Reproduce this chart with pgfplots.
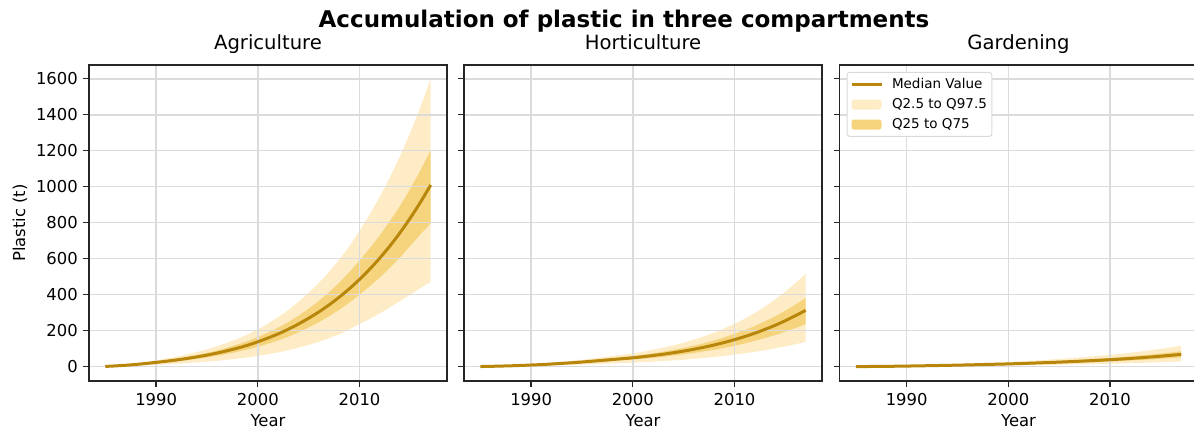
\documentclass[border=0pt]{standalone}
\usepackage{fontspec}
\setmainfont{DejaVu Sans}
\usepackage{pgfplots}
\usepackage{pgfplotstable}
\pgfplotsset{compat=1.18}
\usepgfplotslibrary{fillbetween}

\definecolor{medc}{RGB}{184,134,11}
\definecolor{outerc}{RGB}{254,236,198}
\definecolor{innerc}{RGB}{246,212,126}

% year med lo95 hi95 lo75 hi75
\pgfplotstableread{
year med lo95 hi95 lo75 hi75
1985 1 0.4 1.5 0.8 1.2
1986 4 1.7 6 3.2 4.8
1987 7.5 3.2 11.3 6 8.9
1988 12 5.2 18 9.6 14.3
1989 17.5 7.5 26.3 14 20.8
1990 23.5 10.1 35.3 18.8 28
1991 30 12.9 45 24 35.7
1992 37 15.9 55.5 29.6 44
1993 45 19.4 67.5 36 53.6
1994 54 23.2 81 43.2 64.3
1995 64 27.5 96 51.2 76.2
1996 75.5 32.5 113.3 60.4 89.8
1997 88.5 38.1 132.8 70.8 105.3
1998 103 44.3 154.5 82.4 122.6
1999 119 51.2 178.5 95.2 141.6
2000 138 59.3 207 110.4 164.2
2001 159 68.7 239.3 127.2 189.2
2002 182 79.2 274.8 145.6 216.6
2003 208 90.9 315.1 166.4 247.5
2004 237 104.8 360.2 190.6 283
2005 269 120.5 410.2 217.5 322.5
2006 304 138 465.1 247 365
2007 343 158 526.5 280 413
2008 386 180 594.4 316 466
2009 433 207 669 356 525
2010 485 237 755 400 590
2011 542 265 846 446 658
2012 604 296 945 496 730
2013 672 330 1053 550 810
2014 746 365 1172 608 895
2015 827 400 1303 672 990
2016 915 437 1446 736 1093
2017 1010 472 1598.8 798 1203
}\agri

\pgfplotstableread{
year med lo95 hi95 lo75 hi75
1985 0.5 0.2 0.8 0.4 0.6
1986 1.5 0.7 2.3 1.2 1.8
1987 3 1.4 4.5 2.4 3.6
1988 4.5 2 6.8 3.6 5.4
1989 6.5 2.9 9.8 5.2 7.8
1990 9 4.1 13.5 7.2 10.8
1991 11.5 5.2 17.3 9.2 13.8
1992 14.5 6.5 21.8 11.6 17.4
1993 18 8.1 27 14.4 21.6
1994 21.5 9.7 32.3 17.2 25.8
1995 25.5 11.5 38.3 20.4 30.6
1996 30 13.5 45 24 36
1997 34.5 15.5 51.8 27.6 41.4
1998 39.5 17.8 59.3 31.6 47.4
1999 44.2 19.9 66.3 35.4 53
2000 49 22.1 73.5 39.2 58.8
2001 55 24.7 83 43.8 66.1
2002 61.7 27.7 93.7 49 74.2
2003 69.1 31 105.5 54.7 83.2
2004 77.3 34.6 118.7 61.1 93.1
2005 86.4 38.6 133.4 68 104.2
2006 96.5 43 149.9 75.7 116.5
2007 107.8 48.1 168.4 84.3 130.2
2008 120.4 53.6 189 93.8 145.7
2009 134.4 59.8 212.2 104.4 162.8
2010 150 66.6 238.2 116.1 181.8
2011 167 74 266.7 128.8 202.6
2012 186 82.4 298.7 143 225.8
2013 207 91.5 334.1 158.6 251.7
2014 230 101.7 373.3 175.7 279.9
2015 255.5 112.7 417 194.4 311.2
2016 283.5 124.7 465.2 214.9 345.6
2017 313 137.7 516.5 236.3 381.9
}\hort

\pgfplotstableread{
year med lo95 hi95 lo75 hi75
1985 0 0 0 0 0
1986 0.5 0.2 0.9 0.4 0.6
1987 1 0.4 1.7 0.8 1.3
1988 1.5 0.6 2.6 1.1 1.9
1989 2.2 0.9 3.7 1.7 2.8
1990 3 1.3 5.1 2.3 3.8
1991 4 1.7 6.8 3 5
1992 5 2.1 8.5 3.8 6.3
1993 6 2.5 10.2 4.5 7.5
1994 7 2.9 11.9 5.3 8.8
1995 8.2 3.4 13.9 6.2 10.3
1996 9.5 4 16.2 7.1 11.9
1997 10.8 4.5 18.4 8.1 13.5
1998 12.2 5.1 20.7 9.2 15.3
1999 13.6 5.7 23.1 10.2 17
2000 15 6.3 25.5 11.3 18.8
2001 16.8 7.1 28.6 12.6 21
2002 18.7 7.9 31.8 14 23.4
2003 20.7 8.7 35.2 15.5 25.9
2004 22.8 9.6 38.8 17.1 28.5
2005 25 10.5 42.5 18.8 31.3
2006 27.4 11.5 46.6 20.6 34.3
2007 30 12.6 51 22.5 37.5
2008 32.7 13.7 55.6 24.5 40.9
2009 35.5 14.9 60.4 26.6 44.4
2010 38.5 16.2 65.5 28.9 48.1
2011 41.8 17.6 71.1 31.4 52.3
2012 45.4 19.1 77.2 34.1 56.8
2013 49.3 20.7 83.8 37 61.6
2014 53.5 22.5 91 40.1 66.9
2015 58 24.4 98.6 43.5 72.5
2016 63 26.5 107.1 47.3 78.8
2017 68 28.6 115.6 51 85
}\gard

\pgfplotsset{
  legline/.style={legend image code/.code={\path (0pt,0pt) (37pt,0pt); \draw[##1] (0pt,0pt) -- (30pt,0pt);}},
  legarea/.style={legend image code/.code={\path (0pt,0pt) (37pt,0pt); \fill[##1] (0pt,-5pt) rectangle (30pt,5pt);}},
  panel/.style={
    set layers,
    scale only axis, width=358pt, height=316pt,
    anchor=south west,
    xmin=1983.4, xmax=2018.6, ymin=-80, ymax=1677,
    xtick={1990,2000,2010}, ytick={0,200,...,1600},
    /pgf/number format/1000 sep={},
    /pgf/number format/assume math mode=true,
    tick align=outside, tick pos=left, major tick length=5.7pt,
    axis line style={line width=1.3pt, black!85},
    every tick/.style={line width=1.3pt, black!85},
    grid=major, major grid style={line width=1.4pt, black!14},
    tick label style={font=\fontsize{16.4}{19}\selectfont},
    xticklabel style={yshift=-3pt},
    yticklabel style={xshift=-2pt},
    label style={font=\fontsize{16.4}{19}\selectfont},
    title style={at={(axis description cs:0.5,1)}, anchor=base, yshift=9.8pt, font=\fontsize{19.6}{23}\selectfont},
    xlabel={Year},
    xlabel style={at={(axis description cs:0.5,-0.1266)}, anchor=center},
  },
}

\begin{document}
\begin{tikzpicture}
% ---------- Agriculture ----------
\begin{axis}[panel, at={(89pt,51pt)}, title={Agriculture},
  ylabel={Plastic (t)},
  ylabel style={at={(axis description cs:-0.1927,0.5)}, anchor=center}]
\addplot[name path=aH95, draw=none, forget plot] table[x=year,y=hi95]{\agri};
\addplot[name path=aL95, draw=none, forget plot] table[x=year,y=lo95]{\agri};
\addplot[name path=aH75, draw=none, forget plot] table[x=year,y=hi75]{\agri};
\addplot[name path=aL75, draw=none, forget plot] table[x=year,y=lo75]{\agri};
\addplot[fill=outerc, draw=none, forget plot] fill between[of=aH95 and aL95, on layer=axis background];
\addplot[fill=innerc, draw=none, forget plot] fill between[of=aH75 and aL75, on layer=axis background];
\addplot[medc, line width=3pt, smooth, forget plot] table[x=year,y=med]{\agri};
\end{axis}
% ---------- Horticulture ----------
\begin{axis}[panel, at={(464pt,51pt)}, title={Horticulture}, yticklabels={}]
\addplot[name path=hH95, draw=none, forget plot] table[x=year,y=hi95]{\hort};
\addplot[name path=hL95, draw=none, forget plot] table[x=year,y=lo95]{\hort};
\addplot[name path=hH75, draw=none, forget plot] table[x=year,y=hi75]{\hort};
\addplot[name path=hL75, draw=none, forget plot] table[x=year,y=lo75]{\hort};
\addplot[fill=outerc, draw=none, forget plot] fill between[of=hH95 and hL95, on layer=axis background];
\addplot[fill=innerc, draw=none, forget plot] fill between[of=hH75 and hL75, on layer=axis background];
\addplot[medc, line width=3pt, smooth, forget plot] table[x=year,y=med]{\hort};
\end{axis}
% ---------- Gardening ----------
\begin{axis}[panel, at={(839.5pt,51pt)}, title={Gardening}, yticklabels={},
  legend cell align=left,
  legend style={at={(axis description cs:0,1)}, anchor=north west, xshift=7pt, yshift=-7pt,
    draw=black!15, line width=1pt, rounded corners=2.5pt, fill=white,
    font=\fontsize{13.5}{15}\selectfont, inner xsep=3pt, inner ysep=4pt, row sep=4.5pt}]
\addplot[name path=gH95, draw=none, forget plot] table[x=year,y=hi95]{\gard};
\addplot[name path=gL95, draw=none, forget plot] table[x=year,y=lo95]{\gard};
\addplot[name path=gH75, draw=none, forget plot] table[x=year,y=hi75]{\gard};
\addplot[name path=gL75, draw=none, forget plot] table[x=year,y=lo75]{\gard};
\addplot[fill=outerc, draw=none, forget plot] fill between[of=gH95 and gL95, on layer=axis background];
\addplot[fill=innerc, draw=none, forget plot] fill between[of=gH75 and gL75, on layer=axis background];
\addplot[medc, line width=3pt, smooth, forget plot] table[x=year,y=med]{\gard};
\addlegendimage{legline, medc, line width=3pt}
\addlegendentry{Median Value}
\addlegendimage{legarea, fill=outerc, draw=none}
\addlegendentry{Q2.5 to Q97.5}
\addlegendimage{legarea, fill=innerc, draw=none}
\addlegendentry{Q25 to Q75}
\end{axis}
\node[anchor=base, font=\fontsize{23}{27}\selectfont\bfseries] at (624pt,404.6pt) {Accumulation of plastic in three compartments};
\pgfresetboundingbox
\useasboundingbox (0,0) rectangle (1194pt,432pt);
\end{tikzpicture}
\end{document}
